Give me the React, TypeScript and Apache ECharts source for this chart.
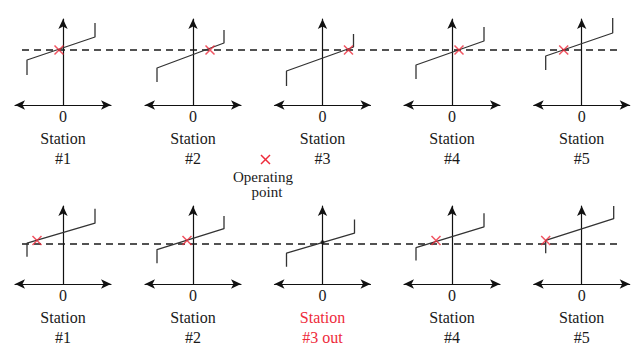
import React, { useEffect, useRef } from "react";
import * as echarts from "echarts";

// ---- data ----
const topStations = ["#1", "#2", "#3", "#4", "#5"];
const bottomStations = ["#1", "#2", "#3 out", "#4", "#5"];
const refTop = 55;
const refBottom = 48;
// each curve: [xLeft, yLeftLow, yLeftKink, xRight, yRightKink, yRightTop]
const topCurves = [
  [-36, 30, 45, 32, 68, 82],
  [-36, 23, 37, 31, 62, 75],
  [-36, 19, 34, 31, 58, 71],
  [-36, 26, 40, 32, 64, 78],
  [-36, 35, 49, 31, 72, 87],
];
const bottomCurves = [
  [-36, 30, 45, 32, 67, 83],
  [-36, 23, 38, 31, 61, 75],
  [-36, 19, 34, 32, 56, 71],
  [-36, 26, 40, 32, 63, 78],
  [-36, 34, 48, 32, 72, 86],
];
const topOpX = [-4, 17, 26, 7, -18];
const bottomOpX: (number | null)[] = [-26, -6, null, -16, -36];
const outPanel = 2;
const outDot = [0, 46];
const legendLines = ["Operating", "point"];

// ---- layout ----
const panelCenters = [63, 193, 322.5, 452, 581.7];
const rowTops = [19, 206];
const HALF = 48;
const GH = 86;
const FONT = "Liberation Serif";
const RED = "#ee2b3b";
const CROSS = "path://M0,0L10,10M10,0L0,10";

export default function App() {
  const ref = useRef<HTMLDivElement>(null);
  useEffect(() => {
    if (!ref.current) return;
    const chart = echarts.init(ref.current, undefined, { renderer: "svg" });
    const grid: any[] = [];
    const xAxis: any[] = [];
    const yAxis: any[] = [];
    const series: any[] = [];
    const rows = [
      { stations: topStations, curves: topCurves, ops: topOpX as (number | null)[], refv: refTop },
      { stations: bottomStations, curves: bottomCurves, ops: bottomOpX, refv: refBottom },
    ];
    rows.forEach((row, r) => {
      row.stations.forEach((st, i) => {
        const k = grid.length;
        const isOut = r === 1 && i === outPanel;
        grid.push({ left: panelCenters[i] - HALF, top: rowTops[r], width: HALF * 2, height: GH });
        xAxis.push({
          type: "value",
          gridIndex: k,
          min: -HALF,
          max: HALF,
          interval: HALF,
          axisLine: {
            onZero: true,
            symbol: ["arrow", "arrow"],
            symbolSize: [7, 10],
            lineStyle: { color: "#111", width: 1.2 },
          },
          axisTick: { show: false },
          splitLine: { show: false },
          axisLabel: {
            formatter: (v: number) => (v === 0 ? "0" : ""),
            fontFamily: FONT,
            fontSize: 16,
            color: "#1a1a1a",
            margin: 3,
          },
          name: "Station\n" + st,
          nameLocation: "middle",
          nameGap: 23,
          nameTextStyle: {
            fontFamily: FONT,
            fontSize: 16,
            lineHeight: 20,
            color: isOut ? RED : "#1a1a1a",
            verticalAlign: "top",
          },
        });
        yAxis.push({
          type: "value",
          gridIndex: k,
          min: 0,
          max: GH,
          axisLine: {
            onZero: true,
            symbol: ["none", "arrow"],
            symbolSize: [7, 10],
            lineStyle: { color: "#111", width: 1.2 },
          },
          axisTick: { show: false },
          splitLine: { show: false },
          axisLabel: { show: false },
        });
        const c = row.curves[i];
        series.push({
          type: "line",
          xAxisIndex: k,
          yAxisIndex: k,
          data: [
            [c[0], c[1]],
            [c[0], c[2]],
            [c[3], c[4]],
            [c[3], c[5]],
          ],
          symbol: "none",
          clip: false,
          silent: true,
          z: 3,
          lineStyle: { color: "#333", width: 1.3 },
        });
        const ox = row.ops[i];
        if (ox !== null) {
          series.push({
            type: "scatter",
            xAxisIndex: k,
            yAxisIndex: k,
            data: [[ox, row.refv]],
            symbol: CROSS,
            symbolSize: 9,
            clip: false,
            silent: true,
            z: 5,
            itemStyle: { color: "rgba(0,0,0,0)", borderColor: RED, borderWidth: 1.5 },
          });
        } else if (isOut) {
          series.push({
            type: "scatter",
            xAxisIndex: k,
            yAxisIndex: k,
            data: [outDot],
            symbol: "circle",
            symbolSize: 4,
            silent: true,
            z: 5,
            itemStyle: { color: "#111" },
          });
        }
      });
    });
    // row-wide grids for the dashed reference lines
    rows.forEach((row, r) => {
      const k = grid.length;
      grid.push({ left: 22, top: rowTops[r], width: 600, height: GH });
      xAxis.push({ type: "value", gridIndex: k, min: 0, max: 1, show: false });
      yAxis.push({ type: "value", gridIndex: k, min: 0, max: GH, show: false });
      series.push({
        type: "line",
        xAxisIndex: k,
        yAxisIndex: k,
        data: [
          [0, row.refv],
          [1, row.refv],
        ],
        symbol: "none",
        silent: true,
        z: 1,
        lineStyle: { color: "#1a1a1a", width: 1.3, type: [7, 5] },
      });
    });

    chart.setOption({
      animation: false,
      backgroundColor: "#fff",
      grid,
      xAxis,
      yAxis,
      series,
      graphic: [
        {
          type: "group",
          left: 258.5,
          top: 152.5,
          children: [
            { type: "line", shape: { x1: 0, y1: 0, x2: 9, y2: 9 }, style: { stroke: RED, lineWidth: 1.5 } },
            { type: "line", shape: { x1: 9, y1: 0, x2: 0, y2: 9 }, style: { stroke: RED, lineWidth: 1.5 } },
          ],
        },
        {
          type: "text",
          x: 263,
          y: 177,
          style: {
            text: legendLines[0],
            fontFamily: FONT,
            fontSize: 15,
            align: "center",
            verticalAlign: "middle",
            fill: "#1a1a1a",
          },
        },
        {
          type: "text",
          x: 267,
          y: 192,
          style: {
            text: legendLines[1],
            fontFamily: FONT,
            fontSize: 15,
            align: "center",
            verticalAlign: "middle",
            fill: "#1a1a1a",
          },
        },
      ],
    });
    return () => chart.dispose();
  }, []);
  return (
    <div
      ref={ref}
      style={{ position: "fixed", left: 0, top: 0, width: 633, height: 348, background: "#fff" }}
    />
  );
}
